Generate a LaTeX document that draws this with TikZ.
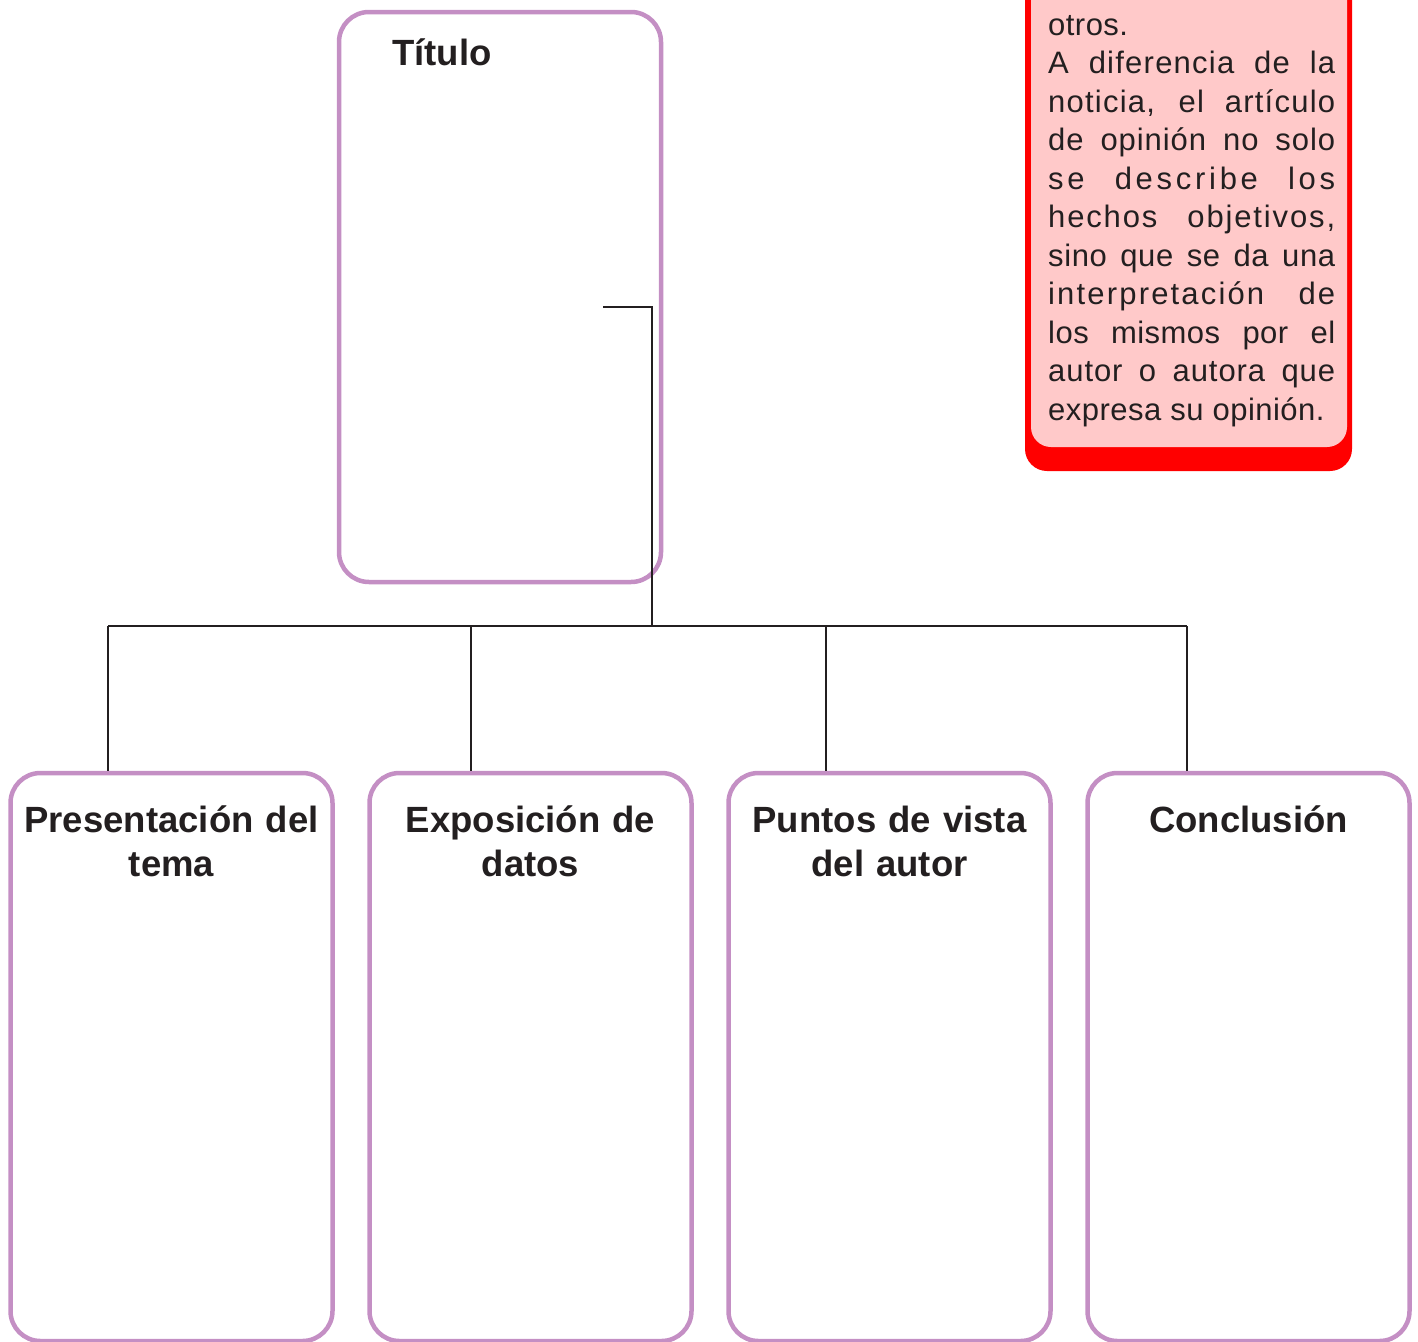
\documentclass[tikz,border=0pt]{standalone}
\usepackage{fontspec}
\setmainfont{Liberation Sans}
\newfontfamily\notefont{Liberation Sans}
\definecolor{lila}{HTML}{C48FC4}
\definecolor{ink}{HTML}{231F20}
\definecolor{rosa}{HTML}{FFC9C9}
\definecolor{rojo}{HTML}{FF0000}
\newcommand\noteline[2]{\makebox[287pt][s]{\addfontfeatures{LetterSpace=#1}\spaceskip=0pt\xspaceskip=0pt #2}\par}
\newcommand\notelast[2]{{\addfontfeatures{LetterSpace=#1}#2}\par}
\begin{document}
\begin{tikzpicture}[x=1pt,y=-1pt,
  box/.style={draw=lila, line width=4.5pt, rounded corners=30pt, minimum width=322pt, inner sep=0pt},
  wire/.style={draw=ink, line width=2.4pt},
  head/.style={font=\bfseries\fontsize{36.5}{44}\selectfont, text=ink, text width=330pt, align=center, inner sep=0pt, anchor=north}]
\useasboundingbox (0,0) rectangle (1418,1341);
\clip (0,0) rectangle (1418,1341);
% note box
\node[fill=rojo, rounded corners=22pt, minimum width=327pt, minimum height=531pt, inner sep=0pt] (noteout) at (1188.5,205.5) {};
\node[fill=rosa, rounded corners=20pt, minimum width=316pt, minimum height=507pt, inner sep=0pt] (notein) at (1189,193.5) {};
\node[anchor=north west, inner sep=0pt, text width=287pt, align=left, text=ink,
      font=\notefont\fontsize{31}{38.5}\selectfont] (notetext) at (1048,8)
 {\parindent=0pt\spaceskip=0pt\xspaceskip=0pt\strut
  \notelast{1.5}{otros.}
  \noteline{4}{A diferencia de la}
  \noteline{4}{noticia, el artículo}
  \noteline{3}{de opinión no solo}
  \noteline{12}{se describe los}
  \noteline{6}{hechos objetivos,}
  \noteline{2}{sino que se da una}
  \noteline{7}{interpretación de}
  \noteline{1.5}{los mismos por el}
  \noteline{3}{autor o autora que}
  \notelast{1.5}{expresa su opinión.}};
% title box
\node[box, minimum height=570pt] (t) at (500,297) {};
\node[anchor=base west, inner sep=0pt, text=ink, font=\bfseries\fontsize{36.5}{44}\selectfont] (tl) at (392,65) {Título};
% bottom boxes
\node[box, minimum height=568pt] (b1) at (171.5,1057) {};
\node[box, minimum height=568pt] (b2) at (530.5,1057) {};
\node[box, minimum height=568pt] (b3) at (889.5,1057) {};
\node[box, minimum height=568pt] (b4) at (1248.5,1057) {};
\node[head] (h1) at (171.5,801) {\strut Presentación del\\tema};
\node[head] (h2) at (530.5,801) {\strut Exposición de\\datos};
\node[head] (h3) at (889.5,801) {\strut Puntos de vista\\del autor};
\node[head] (h4) at (1248.5,801) {\strut Conclusión};
% connectors
\coordinate (tc) at (603,307);
\coordinate (jt) at (652,626);
\coordinate (j1) at (108,626);
\coordinate (j2) at (471,626);
\coordinate (j3) at (826,626);
\coordinate (j4) at (1187,626);
\draw[wire] (tc) -| (jt);
\draw[wire] (j1) -- (j4);
\draw[wire] (j1) -- (j1 |- b1.north);
\draw[wire] (j2) -- (j2 |- b2.north);
\draw[wire] (j3) -- (j3 |- b3.north);
\draw[wire] (j4) -- (j4 |- b4.north);
\end{tikzpicture}
\end{document}
